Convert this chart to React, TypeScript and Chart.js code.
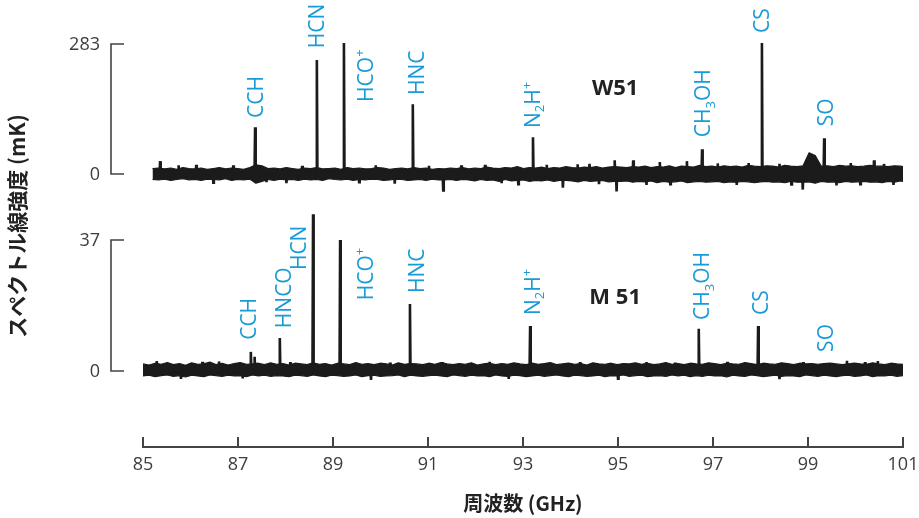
import { useEffect, useRef } from 'react';
import { Chart, registerables } from 'chart.js';

Chart.register(...registerables);

// ---------- axis / scale values ----------
const X_MIN = 85;
const X_MAX = 101;
const xTickValues = [85, 87, 89, 91, 93, 95, 97, 99, 101];
const xTitle = '周波数 (GHz)';
const yTitle = 'スペクトル線強度 (mK)';
const W51_SCALE_TOP = 283;
const M51_SCALE_TOP = 37;

// ---------- W51 spectrum: noise envelope (mK), noise spikes, lines ----------
const w51Start = 85.2;
const w51Step = 0.128;
const w51Upper = [
  12, 13, 11, 13, 10, 14, 12, 11, 13, 10, 12, 14, 11, 13, 12, 10, 14, 20, 18, 12, 13, 11, 14, 12, 10,
  13, 12, 14, 11, 12, 13, 10, 14, 12, 13, 11, 12, 14, 13, 10, 12, 13, 11, 14, 12, 13, 10, 12, 11, 13,
  12, 14, 11, 13, 12, 15, 13, 12, 14, 13, 16, 12, 14, 13, 15, 12, 14, 13, 16, 14, 13, 15, 14, 16, 13,
  15, 16, 15, 14, 16, 15, 17, 14, 16, 15, 18, 14, 17, 16, 15, 19, 16, 17, 15, 18, 16, 17, 15, 19, 17,
  16, 18, 17, 15, 19, 17, 16, 18, 46, 40, 17, 18, 16, 19, 17, 18, 16, 17, 19, 17, 17, 16, 18, 17, 15,
];
const w51Lower = [
  -12, -13, -11, -14, -12, -10, -13, -12, -14, -11, -12, -13, -10, -14, -12, -13, -11, -20, -16, -12, -14, -11, -13, -12, -14,
  -11, -13, -12, -14, -10, -12, -13, -11, -14, -12, -13, -11, -12, -14, -13, -11, -12, -14, -13, -12, -14, -11, -13, -13, -12,
  -14, -12, -13, -15, -12, -14, -13, -16, -12, -15, -14, -13, -16, -14, -15, -13, -16, -14, -14, -15, -17, -14, -16, -15, -14,
  -17, -16, -16, -15, -18, -16, -17, -15, -19, -16, -18, -17, -15, -19, -17, -16, -18, -17, -16, -19, -17, -18, -16, -17, -19,
  -17, -16, -18, -17, -19, -16, -18, -18, -17, -20, -16, -18, -17, -19, -16, -18, -17, -16, -18, -17, -19, -16, -18, -15, -17,
];
const w51NoiseSpikeFreqs = [
  85.36, 85.75, 86.12, 86.48, 86.9, 87.6, 88.02, 88.35, 89.55, 89.9, 90.3, 91.02, 91.32, 91.7,
  92.2, 92.55, 92.9, 93.5, 93.84, 94.15, 94.4, 94.6, 94.93, 94.97, 95.32, 95.6, 95.88, 96.1,
  96.45, 97.1, 97.5, 97.75, 98.4, 98.65, 98.89, 99.6, 99.9, 100.1, 100.39, 100.6, 100.8,
];
const w51NoiseSpikeValues = [
  28, 19, 20, -19, 19, -18, -20, 18, -18, 19, -21, 18, -36, 19,
  20, -20, -22, 20, -30, 21, 22, -22, 30, -38, 30, -24, 26, -22,
  28, 23, -24, 24, 22, -23, -34, -25, 24, -22, 30, 22, -24,
];
const w51PeakFreqs = [87.36, 88.66, 89.23, 90.68, 93.21, 96.77, 98.03, 99.34];
const w51PeakValues = [102, 248, 285, 152, 80, 54, 285, 78];

// ---------- M51 spectrum: noise envelope (mK), noise spikes, lines ----------
const m51Start = 85.0;
const m51Step = 0.128;
const m51Upper = [
  2.0, 1.7, 2.2, 1.9, 2.4, 1.8, 2.1, 1.6, 2.3, 1.9, 2.0, 2.5, 1.8, 2.2, 1.7, 2.1, 2.4, 1.9, 2.0, 2.2, 1.8, 2.3, 1.9, 2.1, 1.7, 2.2,
  2.0, 1.8, 2.3, 1.9, 2.1, 1.7, 2.2, 2.0, 1.8, 2.4, 1.9, 2.1, 1.8, 2.2, 2.0, 1.7, 2.3, 1.9, 2.1, 2.0, 1.8, 2.2, 1.9, 2.4, 2.0, 1.8,
  2.1, 1.9, 2.3, 1.7, 2.0, 2.2, 1.8, 2.1, 1.9, 2.3, 2.0, 1.8, 2.2, 1.9, 2.1, 2.4, 1.8, 2.0, 2.2, 1.9, 2.1, 1.7, 2.3, 2.0, 1.9, 2.2,
  1.8, 2.1, 2.0, 2.3, 1.9, 2.2, 1.8, 2.0, 2.4, 1.9, 2.1, 1.8, 2.2, 2.0, 1.9, 2.3, 2.1, 1.8, 2.2, 2.0, 1.9, 2.4, 2.1, 1.8, 2.2, 2.0,
  1.9, 2.3, 2.1, 1.8, 2.2, 2.0, 2.1, 1.9, 2.1, 2.2, 2.0, 1.8, 2.0, 2.2, 2.0, 1.9, 2.3, 2.0, 1.8, 2.2, 2.0, 1.9,
];
const m51Lower = [
  -1.4, -1.2, -1.6, -1.3, -1.1, -1.5, -1.3, -1.7, -1.2, -1.4, -1.6, -1.1, -1.3, -1.5, -1.2, -1.4, -1.3, -1.6, -1.1, -1.4, -1.2, -1.5, -1.3, -1.4, -1.6, -1.2,
  -1.3, -1.5, -1.1, -1.4, -1.6, -1.2, -1.3, -1.5, -1.4, -1.1, -1.6, -1.3, -1.2, -1.5, -1.4, -1.3, -1.1, -1.6, -1.2, -1.4, -1.5, -1.3, -1.2, -1.4, -1.6, -1.1,
  -1.3, -1.5, -1.2, -1.4, -1.3, -1.6, -1.1, -1.4, -1.5, -1.2, -1.3, -1.6, -1.4, -1.2, -1.5, -1.3, -1.1, -1.4, -1.6, -1.2, -1.3, -1.5, -1.4, -1.2, -1.6, -1.3,
  -1.4, -1.1, -1.5, -1.3, -1.2, -1.6, -1.4, -1.3, -1.5, -1.1, -1.4, -1.2, -1.6, -1.3, -1.5, -1.2, -1.4, -1.3, -1.7, -1.2, -1.4, -1.5, -1.1, -1.3, -1.6, -1.4,
  -1.2, -1.5, -1.3, -1.4, -1.6, -1.1, -1.3, -1.5, -1.2, -1.4, -1.6, -1.3, -1.2, -1.5, -1.4, -1.1, -1.6, -1.3, -1.4, -1.2, -1.5, -1.3,
];
const m51NoiseSpikeFreqs = [
  85.29, 85.8, 86.25, 86.6, 87.1, 88.1, 89.8, 90.2, 91.3, 92.3, 92.7,
  94.2, 95.0, 95.6, 96.2, 97.3, 98.4, 98.9, 99.82, 100.2, 100.47,
];
const m51NoiseSpikeValues = [
  2.8, -2.2, 2.6, 2.7, -2.1, 2.5, -2.5, 2.4, 2.5, 2.6, -2.2,
  2.5, -2.2, 2.5, 2.4, 2.6, -2.3, 2.5, 2.9, 2.5, 2.8,
];
const m51PeakFreqs = [87.27, 87.35, 87.88, 88.58, 89.15, 90.62, 93.15, 96.7, 97.95, 99.27];
const m51PeakValues = [5.4, 4.0, 9.3, 44.3, 37.0, 18.9, 12.7, 11.9, 12.7, 1.6];

// ---------- line labels (text start position in GHz / mK) ----------
const w51LabelNames = ['CCH', 'HCN', 'HCO^+', 'HNC', 'N_2H^+', 'CH_3OH', 'CS', 'SO'];
const w51LabelFreqs = [87.36, 88.66, 89.69, 90.75, 93.19, 96.78, 98.03, 99.36];
const w51LabelBase = [122, 274, 157, 172, 100, 80, 307, 104];

const m51LabelNames = ['CCH', 'HNCO', 'HCN', 'HCO^+', 'HNC', 'N_2H^+', 'CH_3OH', 'CS', 'SO'];
const m51LabelFreqs = [87.23, 87.95, 88.28, 89.69, 90.75, 93.19, 96.76, 98.01, 99.36];
const m51LabelBase = [8.8, 12.1, 28.5, 20.0, 22.0, 15.8, 14.4, 15.8, 5.4];

const sourceNames = ['W51', 'M 51'];
const sourceLabelFreq = [94.94, 94.94];
const sourceLabelValue = [189, 21.2];

// ---------- layout ----------
const AREA_TOP = 5;
const AREA_BOTTOM = 447;

function rangeFor(top: number, zeroPx: number, topPx: number) {
  const per = (zeroPx - topPx) / top;
  return { min: -(AREA_BOTTOM - zeroPx) / per, max: top + (topPx - AREA_TOP) / per };
}
const wRange = rangeFor(W51_SCALE_TOP, 174, 44);
const mRange = rangeFor(M51_SCALE_TOP, 371, 240);

function envelope(start: number, step: number, vals: number[]) {
  return vals.map((y, i) => ({ x: start + i * step, y }));
}
function spikes(pf: number[], pv: number[], nf: number[], nv: number[]) {
  const fr = pf.concat(nf);
  const vs = pv.concat(nv);
  const pts: { x: number; y: number }[] = [];
  fr.forEach((f, k) => {
    pts.push({ x: f - 0.012, y: 0 }, { x: f, y: vs[k] }, { x: f + 0.012, y: 0 });
  });
  pts.sort((a, b) => a.x - b.x);
  return pts;
}

const INK = '#1b1b1b';
const BLUE = '#1a9bd7';
const LABEL_FONT = '"Open Sans", "DejaVu Sans", sans-serif';

function parseRich(s: string) {
  const parts: { t: string; k: string }[] = [];
  for (let i = 0; i < s.length; i++) {
    const c = s[i];
    if ((c === '_' || c === '^') && i + 1 < s.length) {
      parts.push({ t: s[i + 1], k: c === '_' ? 'sub' : 'sup' });
      i++;
    } else parts.push({ t: c, k: 'n' });
  }
  return parts;
}

function drawRich(ctx: CanvasRenderingContext2D, text: string, x: number, y: number, size: number, color: string) {
  ctx.save();
  ctx.translate(x, y);
  ctx.rotate(-Math.PI / 2);
  ctx.fillStyle = color;
  ctx.textBaseline = 'alphabetic';
  ctx.textAlign = 'left';
  const capHalf = size * 0.357;
  let cx = 0;
  for (const p of parseRich(text)) {
    const fs = p.k === 'n' ? size : size * 0.62;
    ctx.font = `${fs}px ${LABEL_FONT}`;
    const dy = p.k === 'sub' ? size * 0.22 : p.k === 'sup' ? -size * 0.42 : 0;
    ctx.fillText(p.t, cx, capHalf + dy);
    cx += ctx.measureText(p.t).width;
  }
  ctx.restore();
}

const decorPlugin = {
  id: 'decor',
  afterDraw(chart: any) {
    const ctx: CanvasRenderingContext2D = chart.ctx;
    const xs = chart.scales.x;
    const area = chart.chartArea;
    ctx.save();
    // x axis line + upward ticks
    ctx.strokeStyle = '#444';
    ctx.lineWidth = 2;
    ctx.beginPath();
    ctx.moveTo(xs.getPixelForValue(X_MIN) - 1, area.bottom);
    ctx.lineTo(xs.getPixelForValue(X_MAX) + 1, area.bottom);
    xTickValues.forEach((v) => {
      const px = Math.round(xs.getPixelForValue(v));
      ctx.moveTo(px, area.bottom);
      ctx.lineTo(px, area.bottom - 10);
    });
    ctx.stroke();

    // scale brackets
    const brackets = [
      { s: chart.scales.yW, top: W51_SCALE_TOP },
      { s: chart.scales.yM, top: M51_SCALE_TOP },
    ];
    ctx.lineWidth = 1.6;
    ctx.font = `18px ${LABEL_FONT}`;
    ctx.fillStyle = '#3d3d3d';
    ctx.textAlign = 'right';
    ctx.textBaseline = 'middle';
    brackets.forEach(({ s, top }) => {
      const y0 = s.getPixelForValue(0);
      const y1 = s.getPixelForValue(top);
      ctx.beginPath();
      ctx.moveTo(124, y1);
      ctx.lineTo(111, y1);
      ctx.lineTo(111, y0);
      ctx.lineTo(124, y0);
      ctx.stroke();
      ctx.fillText(String(top), 100, y1 + 1);
      ctx.fillText('0', 100, y0 + 1);
    });

    // line labels
    const groups = [
      { s: chart.scales.yW, names: w51LabelNames, fr: w51LabelFreqs, base: w51LabelBase },
      { s: chart.scales.yM, names: m51LabelNames, fr: m51LabelFreqs, base: m51LabelBase },
    ];
    groups.forEach(({ s, names, fr, base }) => {
      names.forEach((n, i) => {
        drawRich(ctx, n, xs.getPixelForValue(fr[i]), s.getPixelForValue(base[i]), 21, BLUE);
      });
    });

    // source names
    const srcScales = [chart.scales.yW, chart.scales.yM];
    ctx.font = `bold 22px ${LABEL_FONT}`;
    ctx.fillStyle = '#222';
    ctx.textAlign = 'center';
    ctx.textBaseline = 'alphabetic';
    sourceNames.forEach((n, i) => {
      ctx.fillText(n, xs.getPixelForValue(sourceLabelFreq[i]), srcScales[i].getPixelForValue(sourceLabelValue[i]) + 22 * 0.357);
    });
    ctx.restore();
  },
};

function bandSet(label: string, data: any[], axis: string, fill: any) {
  return {
    label,
    data,
    yAxisID: axis,
    borderColor: INK,
    backgroundColor: INK,
    borderWidth: 1.2,
    borderJoinStyle: 'round',
    pointRadius: 0,
    tension: 0,
    fill,
  };
}
function spikeSet(label: string, data: any[], axis: string) {
  return {
    label,
    data,
    yAxisID: axis,
    borderColor: INK,
    borderWidth: 2.6,
    pointRadius: 0,
    tension: 0,
    fill: false,
  };
}

export default function App() {
  const ref = useRef<HTMLCanvasElement | null>(null);
  useEffect(() => {
    if (!ref.current) return;
    const chart = new Chart(ref.current, {
      type: 'line',
      data: {
        datasets: [
          bandSet('W51 upper', envelope(w51Start, w51Step, w51Upper), 'yW', false),
          bandSet('W51 lower', envelope(w51Start, w51Step, w51Lower), 'yW', '-1'),
          spikeSet('W51 lines', spikes(w51PeakFreqs, w51PeakValues, w51NoiseSpikeFreqs, w51NoiseSpikeValues), 'yW'),
          bandSet('M51 upper', envelope(m51Start, m51Step, m51Upper), 'yM', false),
          bandSet('M51 lower', envelope(m51Start, m51Step, m51Lower), 'yM', '-1'),
          spikeSet('M51 lines', spikes(m51PeakFreqs, m51PeakValues, m51NoiseSpikeFreqs, m51NoiseSpikeValues), 'yM'),
        ],
      },
      options: {
        responsive: false,
        animation: false,
        events: [],
        layout: { padding: { top: AREA_TOP, right: 16, bottom: 0, left: 0 } },
        plugins: { legend: { display: false }, tooltip: { enabled: false } },
        scales: {
          x: {
            type: 'linear',
            min: X_MIN,
            max: X_MAX,
            afterBuildTicks: (s: any) => {
              s.ticks = xTickValues.map((v) => ({ value: v }));
            },
            ticks: {
              font: { family: 'Open Sans', size: 18 },
              color: '#3d3d3d',
              padding: 7,
              maxRotation: 0,
              autoSkip: false,
            },
            grid: { display: false, drawTicks: false },
            border: { display: false },
            title: {
              display: true,
              text: xTitle,
              font: { family: '"Noto Sans CJK JP", "Open Sans", sans-serif', size: 20, weight: 'bold' },
              color: '#222',
              padding: { top: 0, bottom: 3 },
            },
            afterFit: (s: any) => {
              s.height = 518 - AREA_BOTTOM;
              s.paddingLeft = 0;
              s.paddingRight = 0;
            },
          },
          yW: {
            type: 'linear',
            position: 'left',
            min: wRange.min,
            max: wRange.max,
            ticks: { display: false },
            grid: { display: false, drawTicks: false },
            border: { display: false },
            title: {
              display: true,
              text: yTitle,
              font: { family: '"Noto Sans CJK JP", "Open Sans", sans-serif', size: 21, weight: 'bold' },
              color: '#222',
              padding: { top: 4, bottom: 0 },
            },
            afterFit: (s: any) => {
              s.width = 143;
            },
          },
          yM: {
            type: 'linear',
            position: 'left',
            display: false,
            min: mRange.min,
            max: mRange.max,
          },
        },
      },
      plugins: [decorPlugin],
    } as any);
    return () => chart.destroy();
  }, []);
  return (
    <div style={{ position: 'fixed', left: 0, top: 0, width: 919, height: 518, background: '#fff' }}>
      <canvas ref={ref} width={919} height={518} style={{ width: 919, height: 518, display: 'block' }} />
    </div>
  );
}
